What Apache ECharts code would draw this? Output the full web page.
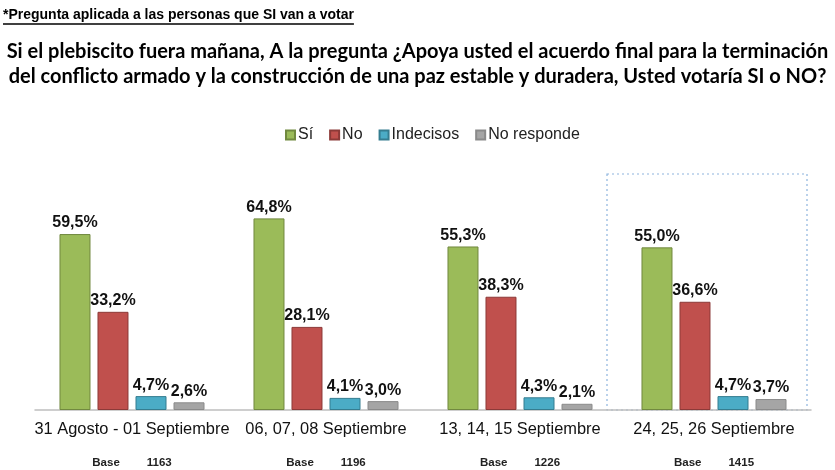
<!DOCTYPE html>
<html><head><meta charset="utf-8">
<script src="https://cdn.jsdelivr.net/npm/echarts@6/dist/echarts.min.js"></script>
<style>html,body{margin:0;padding:0;background:#fff}#c{width:835px;height:470px}</style>
</head><body><div id="c"></div>
<script>
var categories = ['31 Agosto - 01 Septiembre', '06, 07, 08 Septiembre', '13, 14, 15 Septiembre', '24, 25, 26 Septiembre'];
var bases = ['1163', '1196', '1226', '1415'];
var seriesNames = ['Sí', 'No', 'Indecisos', 'No responde'];
var si = [59.5, 64.8, 55.3, 55.0];
var no = [33.2, 28.1, 38.3, 36.6];
var indecisos = [4.7, 4.1, 4.3, 4.7];
var noResponde = [2.6, 3.0, 2.1, 3.7];
var note = '*Pregunta aplicada a las personas que SI van a votar';
var titleText = 'Si el plebiscito fuera mañana, A la pregunta ¿Apoya usted el acuerdo final para la terminación\ndel conflicto armado y la construcción de una paz estable y duradera, Usted votaría SI o NO?';

var colors = ['#9BBB59', '#C0504D', '#4BACC6', '#A5A5A5'];
var borders = ['#71893f', '#8c3a38', '#357d90', '#8a8a8a'];
var allData = [si, no, indecisos, noResponde];

var chart = echarts.init(document.getElementById('c'));
var series = allData.map(function (d, i) {
  return {
    name: seriesNames[i], type: 'bar', data: d, barWidth: 31, barGap: '22.6%',
    itemStyle: { color: colors[i], borderColor: borders[i], borderWidth: 1 },
    label: { show: true, position: 'top', distance: 3, color: '#111', fontFamily: 'Liberation Sans, Arial', fontWeight: 'bold', fontSize: 16,
      formatter: function (p) { return p.value.toFixed(1).replace('.', ',') + '%'; } }
  };
});

var cv = document.createElement('canvas').getContext('2d');
cv.font = 'bold 14px "Liberation Sans"';
var noteW = cv.measureText(note).width;

chart.setOption({
  animation: false,
  color: colors,
  title: {
    text: titleText, left: 'center', top: 34,
    textStyle: { fontFamily: 'Lato', fontWeight: 'bold', fontSize: 20, color: '#000', lineHeight: 25 }
  },
  legend: {
    top: 122, left: 280, itemWidth: 9, itemHeight: 9, itemGap: 16,
    icon: 'rect',
    textStyle: { fontFamily: 'Liberation Sans, Arial', fontSize: 16, color: '#222', padding: [0, 0, 0, -2] }
  },
  grid: { left: 35, right: 24, top: 203, bottom: 60 },
  xAxis: {
    type: 'category', data: categories,
    axisLine: { lineStyle: { color: '#BFBFBF', width: 1.5 } },
    axisTick: { show: false },
    axisLabel: {
      margin: 9, interval: 0,
      formatter: function (v, i) { return '{c|' + v + '}\n{b|Base}{n|' + bases[i] + '}'; },
      rich: {
        c: { fontFamily: 'Liberation Sans, Arial', fontSize: 16.4, color: '#111', lineHeight: 20 },
        b: { fontFamily: 'Liberation Sans, Arial', fontWeight: 'bold', fontSize: 11.5, color: '#222', lineHeight: 47 },
        n: { fontFamily: 'Liberation Sans, Arial', fontWeight: 'bold', fontSize: 11.5, color: '#222', lineHeight: 47, padding: [0, 0, 0, 27] }
      }
    }
  },
  yAxis: { type: 'value', min: 0, max: 70, show: false, splitLine: { show: false } },
  series: series
});

var p0 = chart.convertToPixel({ xAxisIndex: 0, yAxisIndex: 0 }, [3, 0]);
chart.setOption({
  graphic: [
    { type: 'text', left: 3, top: 8, style: { text: note, font: 'bold 14px "Liberation Sans"', fill: '#000' } },
    { type: 'line', shape: { x1: 3, y1: 24, x2: 3 + noteW, y2: 24 }, style: { stroke: '#000', lineWidth: 1.3 } },
    { type: 'rect', shape: { x: p0[0] - 107, y: p0[1] - 236, width: 200, height: 236 },
      style: { fill: 'none', stroke: '#8DB4DE', lineWidth: 1.2, lineDash: [2, 3] }, z: 0 }
  ]
});
</script></body></html>
